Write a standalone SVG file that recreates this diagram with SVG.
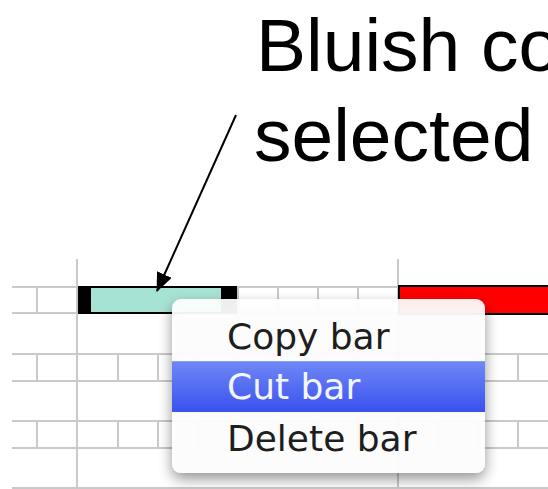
<svg xmlns="http://www.w3.org/2000/svg" width="548" height="489" viewBox="0 0 548 489">
<defs>
<style>
.grid{stroke:#c9c9c9;stroke-width:2;fill:none}
.title{font-family:"Liberation Sans",Arial,sans-serif;font-size:75px;fill:#000}
.item{font-family:"DejaVu Sans","Noto Sans",sans-serif;font-size:36px;fill:#1e1e1e}
.sel{fill:#f4f6ff}
</style>
<linearGradient id="hl" x1="0" y1="0" x2="0" y2="1">
<stop offset="0" stop-color="#6f88f6"/>
<stop offset="1" stop-color="#3a52ef"/>
</linearGradient>
<filter id="shadow" x="-20%" y="-20%" width="140%" height="150%">
<feGaussianBlur in="SourceAlpha" stdDeviation="7"/>
<feOffset dx="0" dy="6" result="b"/>
<feComponentTransfer><feFuncA type="linear" slope="0.45"/></feComponentTransfer>
<feMerge><feMergeNode/><feMergeNode in="SourceGraphic"/></feMerge>
</filter>
<marker id="ah" viewBox="0 0 19 16" refX="18" refY="8" markerWidth="19" markerHeight="16" markerUnits="userSpaceOnUse" orient="auto">
<path d="M0,0 L19,8 L0,16 z" fill="#000"/>
</marker>
</defs>
<rect width="548" height="489" fill="#fff"/>
<g id="grid" class="grid">
<path d="M12,287H548M12,313H548M12,354H548M12,381H548M12,421H548M12,448H548M12,488H548"/>
<path d="M77,259V489M398,259V489"/>
<path d="M37,287V313M118,287V313M158,287V313M198,287V313M238,287V313M278,287V313M318,287V313M358,287V313M438,287V313M478,287V313M518,287V313"/>
<path d="M37,354V381M118,354V381M158,354V381M198,354V381M238,354V381M278,354V381M318,354V381M358,354V381M438,354V381M478,354V381M518,354V381"/>
<path d="M37,421V448M118,421V448M158,421V448M198,421V448M238,421V448M278,421V448M318,421V448M358,421V448M438,421V448M478,421V448M518,421V448"/>
</g>
<g id="selected-bar">
<rect x="78" y="286" width="159" height="28" fill="#000"/>
<rect x="91" y="288" width="130" height="24" fill="#a7e3d4"/>
</g>
<g id="red-bar">
<rect x="399" y="286" width="152" height="28" fill="#ff0000" stroke="#000" stroke-width="2"/>
</g>
<g id="label">
<text class="title" x="256" y="71">Bluish co</text>
<text class="title" x="254" y="161">selected</text>
</g>
<g id="connectors">
<line x1="236" y1="115" x2="157" y2="291" stroke="#000" stroke-width="2" marker-end="url(#ah)"/>
</g>
<g id="context-menu">
<rect x="172" y="299" width="313" height="174" rx="9" fill="#fff" fill-opacity="0.93" filter="url(#shadow)"/>
<rect x="172" y="361" width="313" height="51" fill="url(#hl)"/>
<line x1="172" y1="361.5" x2="485" y2="361.5" stroke="#8b9df7" stroke-width="1"/>
<text class="item" x="227" y="349">Copy bar</text>
<text class="item sel" x="227" y="399">Cut bar</text>
<text class="item" x="227" y="451">Delete bar</text>
</g>
</svg>
